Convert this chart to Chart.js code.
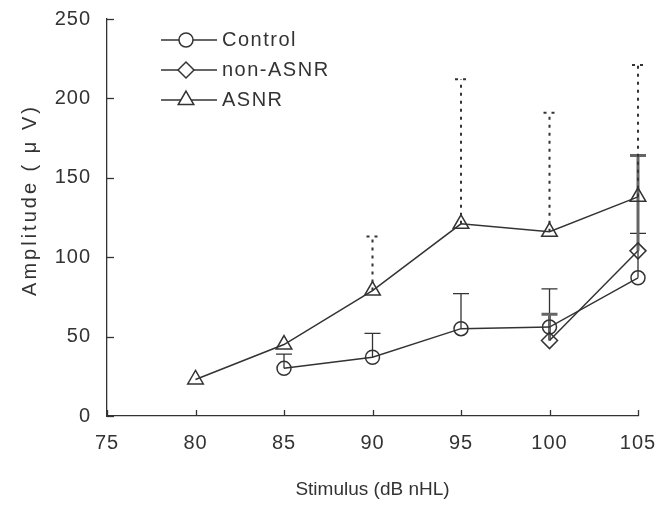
<!DOCTYPE html>
<html>
<head>
<meta charset="utf-8">
<script src="https://cdn.jsdelivr.net/npm/chart.js@4"></script>
<style>
  html, body { margin: 0; padding: 0; background: #fff; }
  #wrap { width: 672px; height: 506px; }
</style>
</head>
<body>
<div id="wrap"><canvas id="myChart" width="672" height="506"></canvas></div>
<script>
// values
const stimulus = [80, 85, 90, 95, 100, 105];
const control = [null, 30, 37, 55, 56, 87];
const controlSD = [null, 9, 15, 22, 24, 28];
const nonAsnr = [null, null, null, null, 47.5, 104];
const nonAsnrSD = [null, null, null, null, 16.5, 60];
const asnr = [23, 45, 79, 121, 116, 138];
const asnrSD = [null, null, 34, 91, 75, 83];
const xTicks = [75, 80, 85, 90, 95, 100, 105];
const yTicks = [0, 50, 100, 150, 200, 250];
const xTitle = "Stimulus (dB nHL)";
const yTitle = "Amplitude ( \u03bc V)";

const ink = "#333";
const fontName = "'Liberation Sans', Arial, sans-serif";

function toPoints(ys) {
  const pts = [];
  for (let i = 0; i < stimulus.length; i++) {
    if (ys[i] !== null) pts.push({ x: stimulus[i], y: ys[i] });
  }
  return pts;
}

// error bars (upper only), styles per series
const errorSets = [
  { mean: control, sd: controlSD, width: 1.3, color: ink, dash: [], cap: 8 },
  { mean: nonAsnr, sd: nonAsnrSD, width: 3, color: "#666", dash: [], cap: 8 },
  { mean: asnr, sd: asnrSD, width: 2, color: ink, dash: [3, 5], cap: 6 },
];

const errorBars = {
  id: "errorBars",
  beforeDraw(chart) {
    chart.ctx.letterSpacing = "1px";
  },
  beforeDatasetsDraw(chart) {
    const ctx = chart.ctx;
    const xs = chart.scales.x;
    const ys = chart.scales.y;
    errorSets.forEach((s) => {
      ctx.save();
      ctx.strokeStyle = s.color;
      ctx.lineWidth = s.width;
      ctx.setLineDash(s.dash);
      for (let i = 0; i < stimulus.length; i++) {
        if (s.mean[i] === null || s.sd[i] === null) continue;
        const px = xs.getPixelForValue(stimulus[i]);
        const y0 = ys.getPixelForValue(s.mean[i]);
        const y1 = ys.getPixelForValue(s.mean[i] + s.sd[i]);
        ctx.beginPath();
        ctx.moveTo(px, y0);
        ctx.lineTo(px, y1);
        ctx.moveTo(px - s.cap, y1);
        ctx.lineTo(px + s.cap, y1);
        ctx.stroke();
      }
      ctx.restore();
    });
  },
};

// inward tick marks + axis titles
const axisDecor = {
  id: "axisDecor",
  afterDraw(chart) {
    const ctx = chart.ctx;
    const xs = chart.scales.x;
    const ys = chart.scales.y;
    const a = chart.chartArea;
    ctx.save();
    ctx.strokeStyle = ink;
    ctx.lineWidth = 1.3;
    xTicks.forEach((v) => {
      const px = Math.round(xs.getPixelForValue(v)) + 0.5;
      ctx.beginPath();
      ctx.moveTo(px, a.bottom);
      ctx.lineTo(px, a.bottom - 6);
      ctx.stroke();
    });
    yTicks.forEach((v) => {
      const py = Math.round(ys.getPixelForValue(v)) + 0.5;
      ctx.beginPath();
      ctx.moveTo(a.left, py);
      ctx.lineTo(a.left + 7, py);
      ctx.stroke();
    });

    ctx.fillStyle = ink;
    ctx.textAlign = "center";
    ctx.textBaseline = "middle";
    ctx.letterSpacing = "0px";
    ctx.font = "19px " + fontName;
    ctx.fillText(xTitle, (a.left + a.right) / 2, 490);

    ctx.translate(30, 200);
    ctx.rotate(-Math.PI / 2);
    ctx.letterSpacing = "3px";
    ctx.font = "20px " + fontName;
    ctx.fillText(yTitle, 0, 0);
    ctx.restore();
  },
};

// legend: line + marker + text
const lineLegend = {
  id: "lineLegend",
  afterDraw(chart) {
    const ctx = chart.ctx;
    ctx.save();
    chart.data.datasets.forEach((ds, i) => {
      const y = 40 + i * 30;
      ctx.strokeStyle = ink;
      ctx.lineWidth = 1.5;
      ctx.beginPath();
      ctx.moveTo(161, y);
      ctx.lineTo(217, y);
      ctx.stroke();
      ctx.fillStyle = "#fff";
      Chart.helpers.drawPoint(ctx, {
        pointStyle: ds.pointStyle,
        radius: ds.pointRadius,
        borderWidth: 1.5,
      }, 186, y);
      ctx.fillStyle = ink;
      ctx.letterSpacing = "1.5px";
      ctx.font = "20px " + fontName;
      ctx.textAlign = "left";
      ctx.textBaseline = "middle";
      ctx.fillText(ds.label, 222, y);
    });
    ctx.restore();
  },
};

function series(label, ys, style, radius) {
  return {
    label: label,
    data: toPoints(ys),
    borderColor: ink,
    borderWidth: 1.5,
    pointStyle: style,
    pointRadius: radius,
    pointBorderColor: ink,
    pointBackgroundColor: "rgba(255,255,255,0)",
    pointBorderWidth: 1.5,
    tension: 0,
    clip: false,
  };
}

const ctx = document.getElementById("myChart");
new Chart(ctx, {
  type: "line",
  data: {
    datasets: [
      series("Control", control, "circle", 7),
      series("non-ASNR", nonAsnr, "rectRot", 8),
      series("ASNR", asnr, "triangle", 9),
    ],
  },
  options: {
    responsive: false,
    animation: false,
    layout: { autoPadding: false, padding: { top: 19, right: 34, left: 0, bottom: 0 } },
    plugins: { legend: { display: false }, tooltip: { enabled: false } },
    scales: {
      x: {
        type: "linear",
        min: 75,
        max: 105,
        afterFit: (s) => { s.height = 90; },
        afterBuildTicks: (s) => { s.ticks = xTicks.map((v) => ({ value: v })); },
        // hidden grid, tickLength only spaces the labels from the axis
        grid: { display: false, drawTicks: true, tickLength: 15 },
        border: { display: true, color: ink, width: 1.3 },
        ticks: { color: ink, font: { family: fontName, size: 20 }, padding: 0 },
      },
      y: {
        min: 0,
        max: 250,
        afterFit: (s) => { s.width = 107; },
        afterBuildTicks: (s) => { s.ticks = yTicks.map((v) => ({ value: v })); },
        grid: { display: false, drawTicks: true, tickLength: 16 },
        border: { display: true, color: ink, width: 1.3 },
        ticks: { color: ink, font: { family: fontName, size: 20 }, padding: 0 },
      },
    },
  },
  plugins: [errorBars, axisDecor, lineLegend],
});
</script>
</body>
</html>
